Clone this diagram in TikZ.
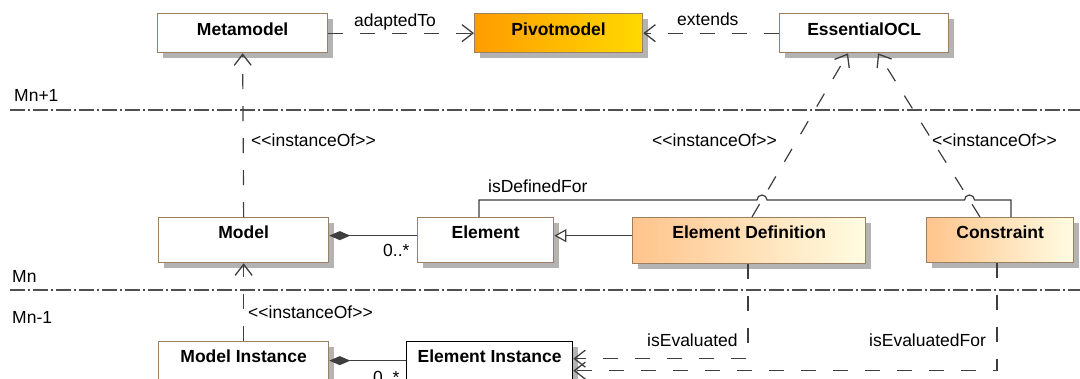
\documentclass[tikz,border=0pt]{standalone}
\usepackage{fontspec}
\setmainfont{Liberation Sans}
\usetikzlibrary{arrows.meta,shadows,calc}
\definecolor{edgegray}{HTML}{3E3E3E}
\definecolor{levelgray}{HTML}{505050}
\definecolor{boxborder}{HTML}{9C7E60}
\definecolor{shadowgray}{HTML}{B3B3B3}
\definecolor{pivotA}{HTML}{FF9C00}
\definecolor{pivotB}{HTML}{FFD900}
\definecolor{peachA}{HTML}{FFC48C}
\definecolor{peachB}{HTML}{FFFCE2}
% guillemet-free stereotype brackets
\newcommand\stereo[1]{<\kern0pt<#1>\kern0pt>}
\begin{document}
\begin{tikzpicture}[x=1pt,y=-1pt,
  font=\fontsize{17.5}{21}\selectfont,
  classbox/.style={draw=boxborder, line width=1.3pt, fill=white, inner sep=0pt,
    anchor=north west, font=\fontsize{17.5}{21}\selectfont\bfseries,
    drop shadow={fill=shadowgray, opacity=1, shadow xshift=5pt, shadow yshift=-5pt}},
  toprow/.style={text height=22pt, text depth=17pt},
  midrow/.style={text height=21pt, text depth=24pt},
  lowrow/.style={text height=21pt, text depth=24pt},
  pivotfill/.style={left color=pivotA, right color=pivotB},
  peachfill/.style={left color=peachA, right color=peachB},
  levelline/.style={levelgray, line width=1.3pt, dash pattern=on 15pt off 3pt on 2pt off 3pt},
  dep/.style={edgegray, line width=1.2pt, dash pattern=on 15pt off 17pt,
    -{Straight Barb[length=11pt,width=17pt,line width=1.3pt]}},
  assoc/.style={edgegray, line width=1.2pt},
  comp/.style={edgegray, line width=1.2pt, {Diamond[length=21pt,width=9pt,fill=edgegray]}-},
  gen/.style={edgegray, line width=1.2pt, -{Triangle[open,length=12pt,width=13pt,fill=white]}},
  lbl/.style={anchor=base west, inner sep=0pt, text=black}
]
\useasboundingbox (0,0) rectangle (1080,378);

% meta-level separators
\coordinate (upL) at (10,110);
\coordinate (upR) at (1080,110);
\coordinate (loL) at (10,290);
\coordinate (loR) at (1080,290);
\draw[levelline] (upL) -- (upR);
\draw[levelline] (loL) -- (loR);

% classes
\node[classbox, toprow, minimum width=170pt] (meta) at (157,13) {Metamodel};
\node[classbox, toprow, pivotfill, minimum width=168pt] (pivot) at (474,13) {Pivotmodel};
\node[classbox, toprow, minimum width=169pt] (eocl) at (779,13) {EssentialOCL};
\node[classbox, midrow, minimum width=170pt] (model) at (158,217) {Model};
\node[classbox, midrow, minimum width=136pt] (el) at (417,217) {Element};
\node[classbox, midrow, peachfill, minimum width=233pt, text depth=25pt] (ed) at (632,217) {Element Definition};
\node[classbox, midrow, peachfill, minimum width=147pt] (cons) at (926,217) {Constraint};
\node[classbox, lowrow, minimum width=170pt] (mi) at (158,341) {Model Instance};
\node[classbox, lowrow, draw=black, minimum width=166pt] (ei) at (406,341) {Element Instance};

% dependencies
\draw[dep] (meta.east) -- (pivot.west);
\draw[dep] (eocl.west) -- (pivot.east);
\draw[dep] (model.north) -- (meta.south);
\draw[dep] ($(ed.north west)+(120,0)$) -- ($(eocl.south west)+(69,0)$);
\draw[dep] ($(cons.north west)+(54,0)$) -- ($(eocl.south west)+(99,0)$);
\draw[dep] (mi.north) -- (model.south);
\draw[dep] ($(ed.south west)+(116,0)$) |- ([yshift=5.5pt]ei.east);
\draw[dep] ($(cons.south west)+(71,0)$) |- ([yshift=-6.5pt]ei.east);

% associations
\draw[comp] ([yshift=4.5pt]model.east) -- ([yshift=4.5pt]el.west);
\draw[comp] ([yshift=3.5pt]mi.east) -- ([yshift=3.5pt]ei.west);
\draw[gen] ([yshift=5pt]ed.west) -- ([yshift=4.5pt]el.east);
\coordinate (jumpA) at (757,200);
\coordinate (jumpB) at (964.5,200);
\draw[assoc] ($(el.north west)+(62,0)$) |- (jumpA)
  arc[start angle=180, end angle=360, radius=5] -- (jumpB)
  arc[start angle=180, end angle=360, radius=5] -| ($(cons.north west)+(85,0)$);

% labels
\node[lbl] (tAdapted) at (354,26) {adaptedTo};
\node[lbl] (tExtends) at (677,25) {extends};
\node[lbl] (tLevelUp) at (14,101) {Mn+1};
\node[lbl] (tInstA) at (251,146) {\stereo{instanceOf}};
\node[lbl] (tInstB) at (652,146) {\stereo{instanceOf}};
\node[lbl] (tInstC) at (932,146) {\stereo{instanceOf}};
\node[lbl] (tDefined) at (488,192) {isDefinedFor};
\node[lbl] (tMultA) at (383,256) {0..*};
\node[lbl] (tLevel) at (12,282) {Mn};
\node[lbl] (tLevelLow) at (12,323) {Mn-1};
\node[lbl] (tInstD) at (248,318) {\stereo{instanceOf}};
\node[lbl] (tEval) at (647,346) {isEvaluated};
\node[lbl] (tEvalFor) at (869,346) {isEvaluatedFor};
\node[lbl] (tMultB) at (373,383) {0..*};
\end{tikzpicture}
\end{document}
